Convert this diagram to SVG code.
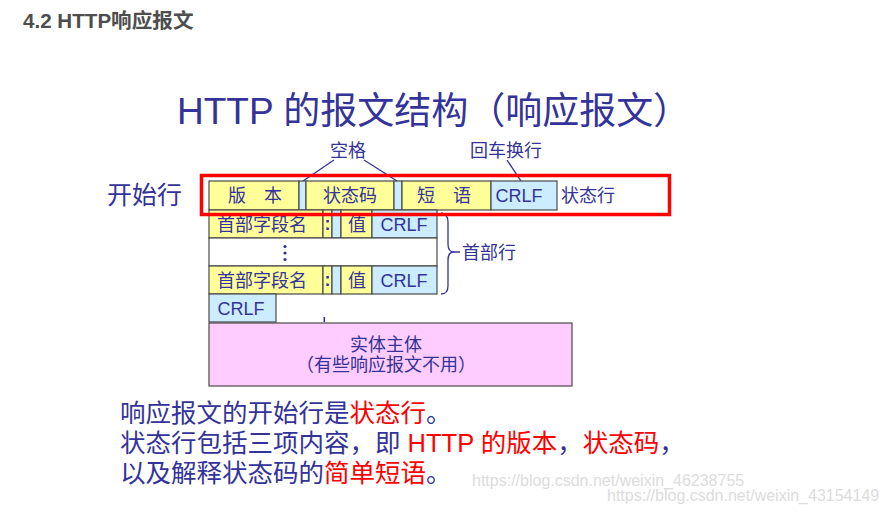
<svg xmlns="http://www.w3.org/2000/svg" width="888" height="514" viewBox="0 0 888 514">
<style>
text{font-family:'Liberation Sans','Noto Sans CJK SC',sans-serif;fill:#333399}
.f{font-size:18px}
.m{text-anchor:middle}
.y{fill:#FFFF99;stroke:#4a4a4a;stroke-width:1.2}
.b{fill:#CCECFF;stroke:#4a4a4a;stroke-width:1.2}
.w{fill:#FFFFFF;stroke:#4a4a4a;stroke-width:1.2}
.r{fill:#FF0000}
.ln{fill:none;stroke:#333399;stroke-width:1.3}
</style>
<rect width="888" height="514" fill="#FFFFFF"/>
<text x="23" y="28" style="font-size:20.6px;font-weight:bold;fill:#4d4d4d">4.2 HTTP响应报文</text>
<text x="177" y="124" style="font-size:37px">HTTP 的报文结构（响应报文）</text>
<text x="107" y="204" style="font-size:25px">开始行</text>

<g id="connectors">
<path class="ln" d="M334,160 L303,181"/>
<path class="ln" d="M364,160 L397,181"/>
<path class="ln" d="M507,160 L521,181"/>
<path class="ln" d="M441,213 Q448,214 448,222 L448,244 Q448,252 454,252 Q448,252 448,260 L448,286 Q448,294 441,294 M454,252 L460,252"/>
</g>

<g id="label-space"><text class="f m" x="348" y="157">空格</text></g>
<g id="label-crlf"><text class="f m" x="506" y="157">回车换行</text></g>

<g id="status-line">
<rect class="y" x="209" y="181" width="90" height="29"/>
<text class="f m" x="255" y="202" style="word-spacing:13px">版 本</text>
<rect class="b" x="299" y="181" width="7" height="29"/>
<rect class="y" x="306" y="181" width="88" height="29"/>
<text class="f m" x="350" y="202">状态码</text>
<rect class="b" x="394" y="181" width="8" height="29"/>
<rect class="y" x="402" y="181" width="89" height="29"/>
<text class="f m" x="444" y="202" style="word-spacing:13px">短 语</text>
<rect class="b" x="491" y="181" width="66" height="29"/>
<text class="f m" x="519" y="202">CRLF</text>
<text class="f" x="561" y="202">状态行</text>
</g>

<g id="header-1">
<rect class="y" x="209" y="210" width="114" height="28"/>
<text class="f" x="217" y="231">首部字段名</text>
<rect class="y" x="323" y="210" width="9" height="28"/>
<text class="f m" x="327.5" y="230" style="font-weight:bold">:</text>
<rect class="b" x="332" y="210" width="9" height="28"/>
<rect class="y" x="341" y="210" width="31" height="28"/>
<text class="f m" x="357" y="231">值</text>
<rect class="b" x="372" y="210" width="65" height="28"/>
<text class="f m" x="404" y="231">CRLF</text>
</g>

<g id="header-dots">
<rect class="w" x="209" y="238" width="228" height="28"/>
<circle cx="285" cy="246.5" r="1.6" fill="#333399"/>
<circle cx="285" cy="253" r="1.6" fill="#333399"/>
<circle cx="285" cy="259.5" r="1.6" fill="#333399"/>
</g>

<g id="header-2">
<rect class="y" x="209" y="266" width="114" height="28"/>
<text class="f" x="217" y="287">首部字段名</text>
<rect class="y" x="323" y="266" width="9" height="28"/>
<text class="f m" x="327.5" y="286" style="font-weight:bold">:</text>
<rect class="b" x="332" y="266" width="9" height="28"/>
<rect class="y" x="341" y="266" width="31" height="28"/>
<text class="f m" x="357" y="287">值</text>
<rect class="b" x="372" y="266" width="65" height="28"/>
<text class="f m" x="404" y="287">CRLF</text>
</g>

<g id="header-label"><text class="f" x="462" y="259">首部行</text></g>

<g id="crlf-line">
<rect class="b" x="209" y="294" width="67" height="28"/>
<text class="f m" x="241" y="315">CRLF</text>
</g>
<rect x="323.5" y="317" width="1.6" height="5" fill="#333399"/>

<g id="body">
<rect x="209" y="323" width="363" height="63" fill="#FFCCFF" stroke="#4a4a4a" stroke-width="1.2"/>
<text class="f m" x="386" y="351">实体主体</text>
<text class="f m" x="386" y="371">（有些响应报文不用）</text>
</g>

<g id="highlight">
<rect x="201.5" y="175.5" width="468" height="39" fill="none" stroke="#FF0000" stroke-width="3.5"/>
</g>

<g id="notes" style="font-size:25.5px">
<text x="120" y="422">响应报文的开始行是<tspan class="r">状态行</tspan>。</text>
<text x="120" y="452">状态行包括三项内容，即 <tspan class="r">HTTP 的版本</tspan>，<tspan class="r">状态码</tspan>，</text>
<text x="120" y="482">以及解释状态码的<tspan class="r">简单短语</tspan>。</text>
</g>

<g id="watermarks" style="font-size:16px">
<text x="472" y="486" style="fill:#dcdcdc">https://blog.csdn.net/weixin_46238755</text>
<text x="607" y="501" style="fill:#dcdcdc">https://blog.csdn.net/weixin_43154149</text>
</g>
</svg>
